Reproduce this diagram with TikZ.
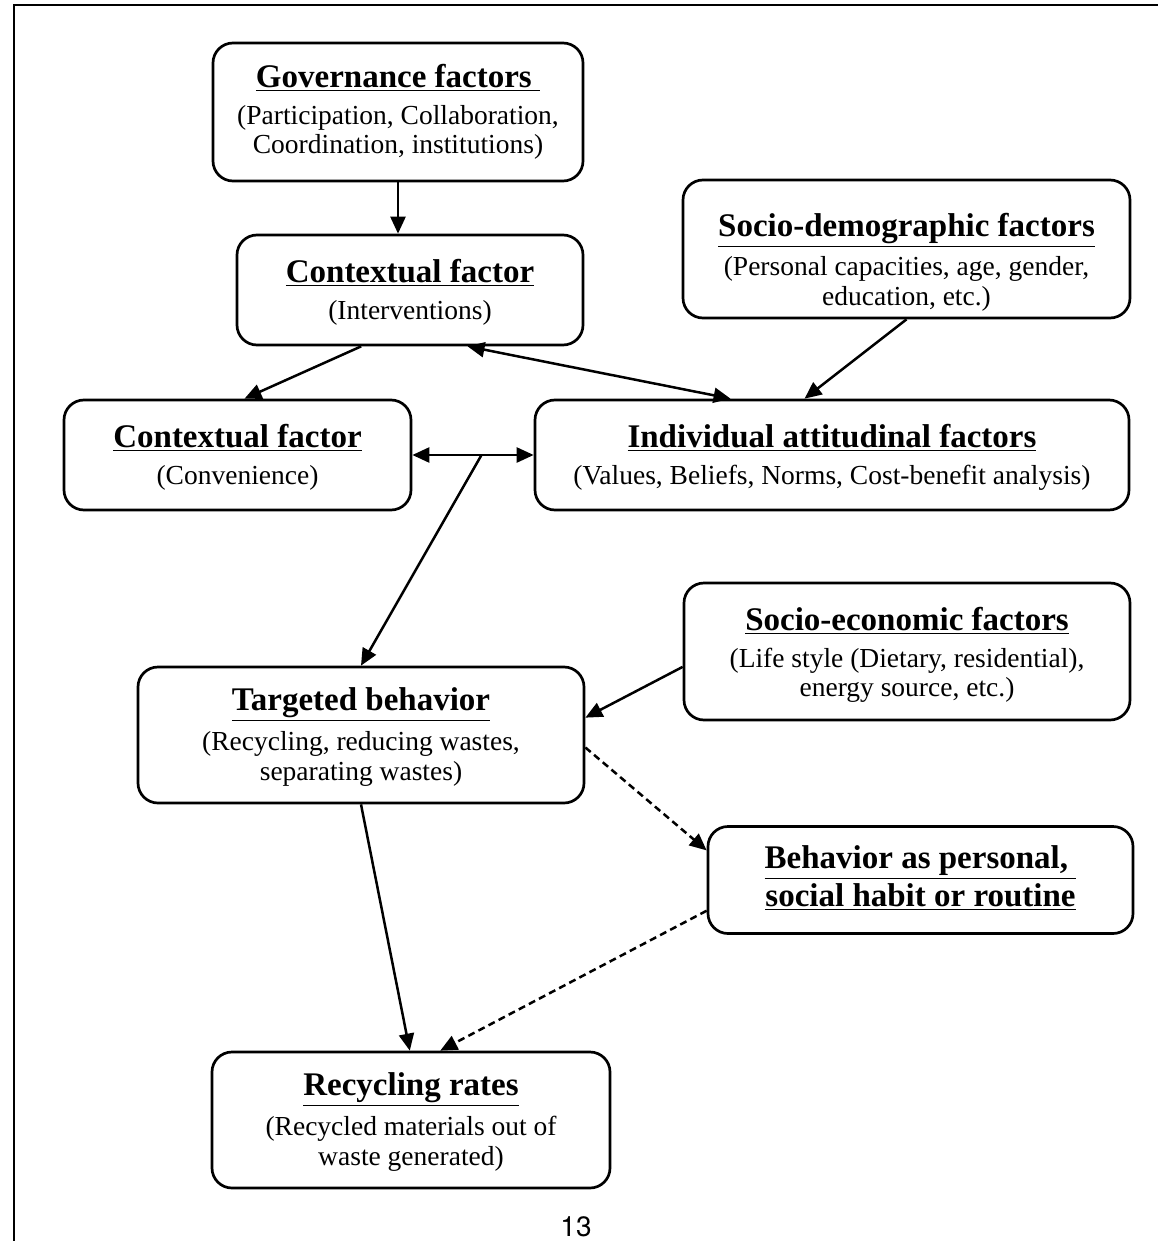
\documentclass[tikz,border=0pt]{standalone}
\usepackage{fontspec}
\setmainfont{Liberation Serif}
\newfontfamily\numfont{TeX Gyre Heros}
\usetikzlibrary{arrows.meta,calc}
\newcommand\subf{\fontsize{13.75}{14.75}\selectfont}
\newcommand\ttl[1]{{\fontsize{16.5}{19}\selectfont\bfseries\underline{#1}}}
\begin{document}
\begin{tikzpicture}[x=0.5pt,y=-0.5pt,
  box/.style={draw,line width=1.35pt,rounded corners=10pt,inner sep=0pt},
  txt/.style={align=center,inner sep=0pt,font=\subf},
  conn/.style={line width=1.25pt,-{Triangle[length=8.5pt,width=7.5pt]}},
  dbl/.style={line width=1.25pt,{Triangle[length=8.5pt,width=7.5pt]}-{Triangle[length=8.5pt,width=7.5pt]}},
  dconn/.style={conn,dash pattern=on 3.5pt off 2.2pt}]
\useasboundingbox (0,0) rectangle (1158,1241);
\draw[line width=1.35pt] (14,1241) -- (14,5) -- (1158,5);

\node[box,minimum width=185pt,minimum height=69pt] (gov) at (398,112) {};
\node[txt] (govt) at (398,112)
  {\ttl{Governance factors\ }\\[3.75pt](Participation, Collaboration,\\Coordination, institutions)};
\node[box,minimum width=173pt,minimum height=55pt] (ctxi) at (410,290) {};
\node[txt] (ctxit) at (410,292)
  {\ttl{Contextual factor}\\[3.75pt](Interventions)};
\node[box,minimum width=223.5pt,minimum height=69pt] (socd) at (906.5,249) {};
\node[txt] (socdt) at (906.5,262)
  {\ttl{Socio-demographic factors}\\[3.75pt](Personal capacities, age, gender,\\education, etc.)};
\node[box,minimum width=173.5pt,minimum height=55pt] (ctxc) at (237.5,455) {};
\node[txt] (ctxct) at (237.5,457)
  {\ttl{Contextual factor}\\[3.75pt](Convenience)};
\node[box,minimum width=297pt,minimum height=55pt] (ind) at (832,455) {};
\node[txt] (indt) at (832,457)
  {\ttl{Individual attitudinal factors}\\[3.75pt](Values, Beliefs, Norms, Cost-benefit analysis)};
\node[box,minimum width=223pt,minimum height=68.5pt] (soce) at (907,651.5) {};
\node[txt] (socet) at (907,655)
  {\ttl{Socio-economic factors}\\[3.75pt](Life style (Dietary, residential),\\energy source, etc.)};
\node[box,minimum width=223pt,minimum height=68pt] (targ) at (361,735) {};
\node[txt] (targt) at (361,737)
  {\ttl{Targeted behavior}\\[3.75pt](Recycling, reducing wastes,\\separating wastes)};
\node[box,minimum width=212.5pt,minimum height=53.5pt] (beh) at (920.5,880) {};
\node[txt] (beht) at (920.5,878)
  {\ttl{Behavior as personal,\ }\\[1pt]\ttl{social habit or routine}};
\node[box,minimum width=199pt,minimum height=68pt] (rec) at (411,1120) {};
\node[txt] (rect) at (411,1122)
  {\ttl{Recycling rates}\\[3.75pt](Recycled materials out of\\waste generated)};
\node[font=\numfont\fontsize{14}{16}\selectfont] (pg) at (576,1227) {13};

\draw[conn] (gov.south) -- (gov.south |- ctxi.north);
\draw[conn] ($(ctxi.south west)!0.36!(ctxi.south east)$) -- ($(ctxc.north west)!0.52!(ctxc.north east)$);
\draw[dbl] ($(ctxi.south west)!0.665!(ctxi.south east)$) -- ($(ind.north west)!0.33!(ind.north east)$);
\draw[conn] (socd.south) -- ($(ind.north west)!0.454!(ind.north east)$);
\draw[dbl] (ctxc.east) -- (ind.west);
\coordinate (j) at ($(ctxc.east)!0.57!(ind.west)$);
\draw[conn] (j) -- (targ.north);
\draw[conn] ($(soce.north west)!0.61!(soce.south west)$) -- ($(targ.north east)!0.375!(targ.south east)$);
\draw[dconn] ($(targ.north east)!0.59!(targ.south east)$) -- ($(beh.north west)!0.23!(beh.south west)$);
\draw[dconn] ($(beh.north west)!0.78!(beh.south west)$) -- ($(rec.north west)!0.573!(rec.north east)$);
\draw[conn] (targ.south) -- ($(rec.north west)!0.497!(rec.north east)$);
\end{tikzpicture}
\end{document}
